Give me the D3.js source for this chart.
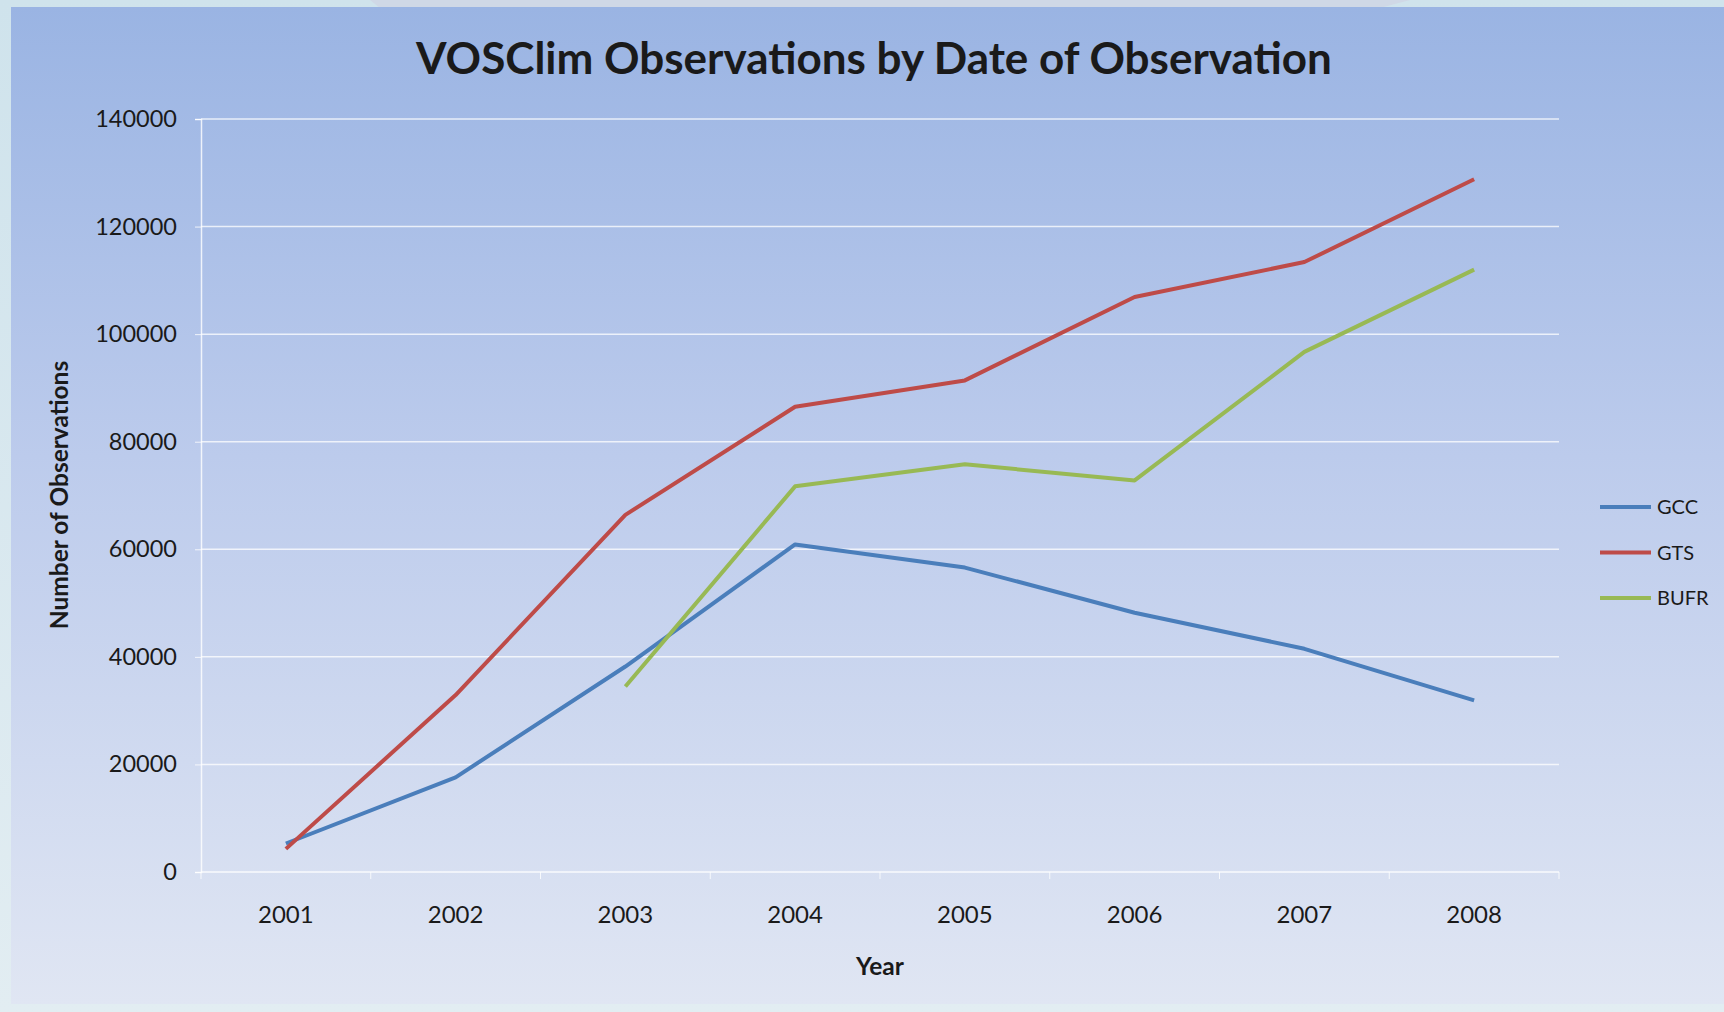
<!DOCTYPE html>
<html>
<head>
<meta charset="utf-8">
<script src="https://cdn.jsdelivr.net/npm/d3@7"></script>
<style>
  body { margin: 0; background: #e6eef4; overflow: hidden; }
  svg { display: block; }
  text { font-family: Lato, "Open Sans", sans-serif; fill: #1a1a1a; }
</style>
</head>
<body>
<div id="chart"></div>
<script>
// data
var years = ["2001", "2002", "2003", "2004", "2005", "2006", "2007", "2008"];
var gcc  = [5300, 17600, 38200, 60900, 56600, 48200, 41500, 31900];
var gts  = [4300, 32900, 66400, 86500, 91400, 106900, 113400, 128800];
var bufr = [null, null, 34500, 71700, 75800, 72800, 96700, 112000];
var yTicks = [0, 20000, 40000, 60000, 80000, 100000, 120000, 140000];
var seriesNames = ["GCC", "GTS", "BUFR"];
var seriesColors = ["#4a7ebb", "#be4b48", "#98b954"];

var width = 1724;
var height = 1012;
var plot = {left: 201, right: 1559, top: 119, bottom: 872};

var svg = d3.select("#chart")
.append("svg")
.attr("width", width)
.attr("height", height);

var defs = svg.append("defs");

var bgGrad = defs.append("linearGradient")
.attr("id", "panelGrad")
.attr("x1", 0).attr("y1", 0).attr("x2", 0).attr("y2", 1);
bgGrad.append("stop").attr("offset", "0%").attr("stop-color", "#9ab4e3");
bgGrad.append("stop").attr("offset", "45%").attr("stop-color", "#bccbec");
bgGrad.append("stop").attr("offset", "100%").attr("stop-color", "#e0e6f3");

var leftGrad = defs.append("linearGradient")
.attr("id", "leftGrad")
.attr("x1", 0).attr("y1", 0).attr("x2", 0).attr("y2", 1);
leftGrad.append("stop").attr("offset", "0%").attr("stop-color", "#cfe3ec");
leftGrad.append("stop").attr("offset", "100%").attr("stop-color", "#e2edf2");

// page behind the chart panel
svg.append("rect")
.attr("x", 0).attr("y", 0)
.attr("width", width).attr("height", height)
.attr("fill", "url(#leftGrad)");

svg.append("path")
.attr("d", "M370,0 L1410,0 L1380,8 L380,8 Z")
.attr("fill", "#cfd8e6");

// chart panel
svg.append("rect")
.attr("x", 11).attr("y", 7)
.attr("width", width - 11).attr("height", 997)
.attr("fill", "url(#panelGrad)");

var x_scale = d3.scaleBand()
.domain(years)
.range([plot.left, plot.right]);

var y_scale = d3.scaleLinear()
.domain([0, 140000])
.range([plot.bottom, plot.top]);

// gridlines
svg.append("g")
.selectAll("line")
.data(yTicks.slice(1))
.enter()
.append("line")
.attr("x1", plot.left)
.attr("x2", plot.right)
.attr("y1", function(d){ return y_scale(d); })
.attr("y2", function(d){ return y_scale(d); })
.attr("stroke", "#ffffff")
.attr("stroke-opacity", 0.75)
.attr("stroke-width", 1.5);

// y axis
var yAxis = d3.axisLeft(y_scale)
.tickValues(yTicks)
.tickSize(6)
.tickPadding(18)
.tickFormat(d3.format("d"));

var yG = svg.append("g")
.attr("transform", "translate(" + plot.left + ",0)")
.call(yAxis);
yG.select(".domain").attr("stroke", "#ffffff").attr("stroke-opacity", 0.8).attr("stroke-width", 1.5);
yG.selectAll(".tick line").attr("stroke", "#ffffff").attr("stroke-opacity", 0.8);
yG.selectAll(".tick text")
.attr("font-size", 23.5)
.attr("font-family", "Lato, sans-serif")
.attr("fill", "#333");

// x axis: line at zero with ticks on category boundaries
var xG = svg.append("g")
.attr("transform", "translate(0," + plot.bottom + ")");
xG.append("line")
.attr("x1", plot.left).attr("x2", plot.right)
.attr("stroke", "#ffffff").attr("stroke-opacity", 0.85).attr("stroke-width", 1.5);
var bounds = years.map(function(d){ return x_scale(d); }).concat([plot.right]);
xG.selectAll(".bound")
.data(bounds)
.enter()
.append("line")
.attr("class", "bound")
.attr("x1", function(d){ return d; })
.attr("x2", function(d){ return d; })
.attr("y1", 0).attr("y2", 7)
.attr("stroke", "#ffffff").attr("stroke-opacity", 0.8);
xG.selectAll(".xlab")
.data(years)
.enter()
.append("text")
.attr("class", "xlab")
.attr("x", function(d){ return x_scale(d) + x_scale.bandwidth()/2; })
.attr("y", 51)
.attr("text-anchor", "middle")
.attr("font-size", 24)
.attr("fill", "#333")
.text(function(d){ return d; });

// lines
var allSeries = [gcc, gts, bufr];
var line = d3.line()
.defined(function(d){ return d != null; })
.x(function(d, i){ return x_scale(years[i]) + x_scale.bandwidth()/2; })
.y(function(d){ return y_scale(d); });

svg.append("g")
.selectAll("path")
.data(allSeries)
.enter()
.append("path")
.attr("d", function(d){ return line(d); })
.attr("fill", "none")
.attr("stroke", function(d, i){ return seriesColors[i]; })
.attr("stroke-width", 4)
.attr("stroke-linejoin", "round");

// title
svg.append("text")
.attr("x", 874)
.attr("y", 74)
.attr("text-anchor", "middle")
.attr("font-size", 44)
.attr("font-weight", "bold")
.attr("fill", "#111")
.text("VOSClim Observations by Date of Observation");

// axis titles
svg.append("text")
.attr("transform", "translate(68,495)rotate(-90)")
.attr("text-anchor", "middle")
.attr("font-size", 24.5)
.attr("font-weight", "bold")
.text("Number of Observations");

svg.append("text")
.attr("x", 880)
.attr("y", 975)
.attr("text-anchor", "middle")
.attr("font-size", 24.5)
.attr("font-weight", "bold")
.text("Year");

// legend
var legend = svg.append("g")
.attr("transform", "translate(1600,507)");
var items = legend.selectAll("g")
.data(seriesNames)
.enter()
.append("g")
.attr("transform", function(d, i){ return "translate(0," + (i * 45.5) + ")"; });
items.append("line")
.attr("x1", 0).attr("x2", 51)
.attr("stroke", function(d, i){ return seriesColors[i]; })
.attr("stroke-width", 4);
items.append("text")
.attr("x", 57)
.attr("y", 7)
.attr("font-size", 20)
.attr("fill", "#222")
.text(function(d){ return d; });
</script>
</body>
</html>
